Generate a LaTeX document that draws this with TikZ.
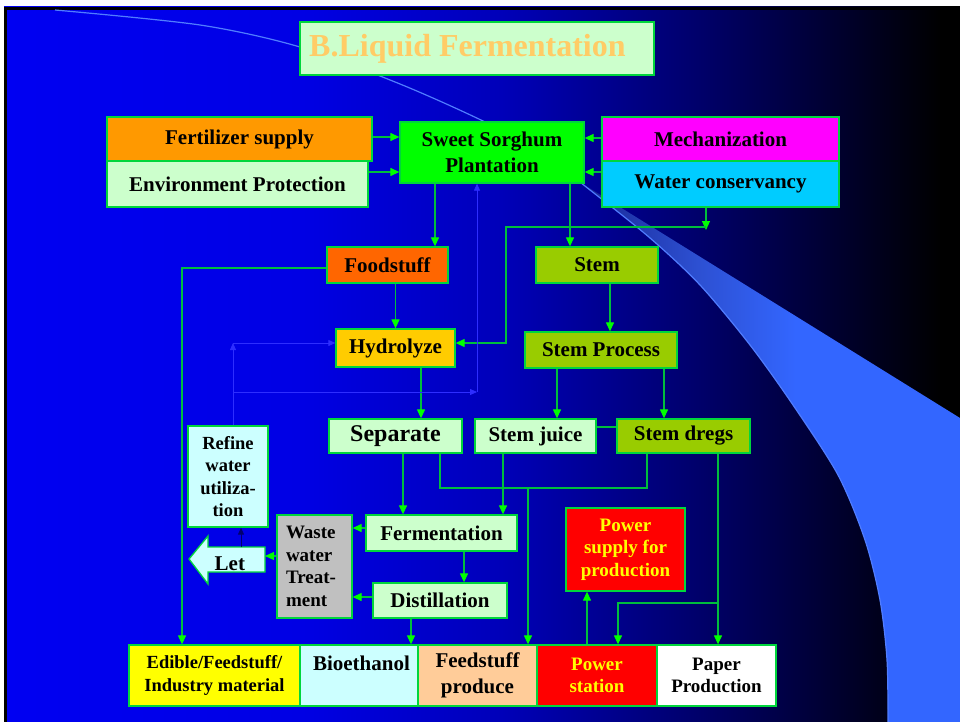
\documentclass[tikz,border=0pt]{standalone}
\usepackage{fontspec}
\setmainfont{Liberation Serif}
\usetikzlibrary{arrows.meta}

\definecolor{bgA}{RGB}{0,0,242}
\definecolor{bgB}{RGB}{0,0,228}
\definecolor{bgC}{RGB}{0,0,185}
\definecolor{bgD}{RGB}{0,0,105}
\definecolor{bgE}{RGB}{0,0,40}
\definecolor{wA}{RGB}{25,40,150}
\definecolor{wB}{RGB}{45,80,210}
\definecolor{wC}{RGB}{51,102,255}
\definecolor{arcblue}{RGB}{80,125,255}
\definecolor{bordergreen}{RGB}{0,214,60}
\definecolor{linegreen}{RGB}{0,190,60}
\definecolor{headgreen}{RGB}{0,255,0}
\definecolor{faintblue}{RGB}{45,45,255}
\definecolor{navyA}{RGB}{0,0,110}
\definecolor{ltgreen}{RGB}{204,255,204}
\definecolor{ltcyan}{RGB}{204,255,255}
\definecolor{titleorange}{RGB}{255,204,102}
\definecolor{orangeA}{RGB}{255,153,0}
\definecolor{orangeB}{RGB}{255,102,0}
\definecolor{sgreen}{RGB}{0,255,0}
\definecolor{magentaA}{RGB}{255,0,255}
\definecolor{cyanA}{RGB}{0,204,255}
\definecolor{oliveA}{RGB}{153,204,0}
\definecolor{goldA}{RGB}{255,204,0}
\definecolor{greyA}{RGB}{192,192,192}
\definecolor{peachA}{RGB}{255,204,153}
\definecolor{redA}{RGB}{255,0,0}
\definecolor{yellowA}{RGB}{255,255,0}

\pgfdeclarehorizontalshading{bgshade}{100bp}{color(0bp)=(bgA); color(25bp)=(bgA); color(40.6bp)=(bgB); color(51bp)=(bgC); color(61.5bp)=(bgD); color(69.3bp)=(bgE); color(74bp)=(black); color(100bp)=(black)}
\pgfdeclarehorizontalshading{wedgeshade}{100bp}{color(0bp)=(wA); color(25bp)=(wA); color(40bp)=(wB); color(53bp)=(wC); color(100bp)=(wC)}

\newcommand\fstitle{\fontsize{32}{38}\selectfont}
\newcommand\fsmain{\fontsize{21}{26}\selectfont}
\newcommand\fsbig{\fontsize{24}{28}\selectfont}
\newcommand\fssmall{\fontsize{19}{22.5}\selectfont}
\newcommand\fsref{\fontsize{18.5}{22.5}\selectfont}
\newcommand\fsedible{\fontsize{18.5}{23}\selectfont}

\tikzset{
  box/.style={draw=bordergreen, line width=1.3pt, inner sep=0pt, align=center, font=\fsmain\bfseries, text=black},
  conn/.style={draw=linegreen, line width=1.2pt},
  arr/.style={conn, -{Triangle[length=9pt,width=8pt,color=headgreen]}},
  barr/.style={draw=faintblue, line width=0.8pt, -{Triangle[length=7pt,width=6pt,color=faintblue]}},
  navyarr/.style={draw=navyA, line width=1pt, -{Triangle[length=7pt,width=6pt,color=navyA]}},
}

\begin{document}
\begin{tikzpicture}[x=1pt,y=-1pt]
\useasboundingbox (0,0) rectangle (960,722);
% background
\fill[white] (0,0) rectangle (960,722);
\shade[shading=bgshade] (4,7) rectangle (960,722);
\draw[black, line width=3pt] (5.5,722) -- (5.5,8.5) -- (960,8.5);
% decorative wedge and arc
\shade[shading=wedgeshade] plot[smooth] coordinates {(586,186) (650,238) (700,285) (750,345) (793,405) (838,475) (865,540) (880,600) (887,660) (888,722)} -- (960,722) -- (960,418) -- cycle;
\draw[arcblue, line width=1.2pt] plot[smooth] coordinates {(55,10) (200,25) (300,47) (400,84) (483,121) (540,152) (590,190) (650,238) (700,285) (750,345) (793,405) (838,475) (865,540) (880,600) (887,660) (888,722)};

% nodes
\node[box, fill=ltgreen, minimum width=354pt, minimum height=53pt] (title) at (477,48.5) {};
\node[font=\fstitle\bfseries, text=titleorange, anchor=base west, inner sep=0pt] (titleT) at (309,57) {B.Liquid Fermentation};

\node[box, fill=orangeA, minimum width=265pt, minimum height=44pt] (fert) at (239.5,139) {Fertilizer supply};
\node[box, fill=ltgreen, minimum width=261pt, minimum height=46pt] (env) at (237.5,184) {Environment Protection};
\node[box, fill=sgreen, minimum width=184pt, minimum height=61pt] (ss) at (492,152.5) {Sweet Sorghum\\Plantation};
\node[box, fill=magentaA, minimum width=237pt, minimum height=44pt] (mech) at (720.5,139) {Mechanization};
\node[box, fill=cyanA, minimum width=237pt, minimum height=46pt] (water) at (720.5,184) {Water conservancy};

\node[box, fill=orangeB, minimum width=121pt, minimum height=36pt] (food) at (387.5,265) {Foodstuff};
\node[box, fill=oliveA, minimum width=122pt, minimum height=36pt] (stem) at (597,265) {Stem};
\node[box, fill=goldA, minimum width=119pt, minimum height=38pt] (hydro) at (395.5,348) {Hydrolyze};
\node[box, fill=oliveA, minimum width=152pt, minimum height=36pt] (sproc) at (601,350) {Stem Process};

\node[box, fill=ltgreen, minimum width=133pt, minimum height=34pt, font=\fsbig\bfseries] (sep) at (395.5,436) {Separate};
\node[box, fill=ltgreen, minimum width=121pt, minimum height=34pt] (sjuice) at (535.5,436) {Stem juice};
\node[box, fill=oliveA, minimum width=133pt, minimum height=34pt] (sdregs) at (683.5,436) {Stem dregs};

\node[box, fill=ltcyan, minimum width=80pt, minimum height=101pt, font=\fsref\bfseries] (refine) at (228,476.5) {Refine\\water\\utiliza-\\tion};
\node[box, fill=ltgreen, minimum width=151pt, minimum height=36pt] (ferm) at (441.5,533) {Fermentation};
\node[box, fill=ltgreen, minimum width=134pt, minimum height=35pt] (dist) at (440,600.5) {Distillation};
\node[box, fill=greyA, minimum width=75pt, minimum height=103pt, text width=57pt, inner xsep=9pt, align=left, font=\fssmall\bfseries] (waste) at (314.5,566.5) {Waste\\water\\Treat-\\ment};
\node[box, fill=redA, text=yellowA, minimum width=119pt, minimum height=83pt, font=\fssmall\bfseries] (psupply) at (625.5,549.5) {Power\\supply for\\production};

% Let arrow shape
\coordinate (letTip) at (189,559);
\coordinate (letE) at (265,556);
\coordinate (letTop) at (241,547);
\draw[draw=bordergreen, line width=1.3pt, fill=ltcyan] (letTip) -- (208,536) -- (208,547) -- (265,547) -- (265,572) -- (208,572) -- (208,584) -- cycle;
\node[font=\fsmain\bfseries, anchor=base west, inner sep=0pt] (let) at (214.5,570) {Let};

% bottom row
\node[box, fill=yellowA, minimum width=171pt, minimum height=61pt, font=\fsedible\bfseries] (edible) at (214.5,675.5) {Edible/Feedstuff/\\Industry material};
\node[box, fill=ltcyan, minimum width=118pt, minimum height=61pt] (bio) at (359,675.5) {};
\node[font=\fsmain\bfseries, anchor=base, inner sep=0pt] (bioT) at (361.5,670) {Bioethanol};
\node[box, fill=peachA, minimum width=119pt, minimum height=61pt] (feed) at (477.5,675.5) {Feedstuff\\produce};
\node[box, fill=redA, text=yellowA, minimum width=120pt, minimum height=61pt, font=\fssmall\bfseries] (pstation) at (597,675.5) {Power\\station};
\node[box, fill=white, minimum width=119pt, minimum height=61pt, font=\fssmall\bfseries] (paper) at (716.5,675.5) {Paper\\Production};

% connectors: inputs to plantation
\coordinate (a1) at ([yshift=2pt]fert.east);
\coordinate (a2) at ([yshift=12pt]env.east);
\coordinate (a3) at ([yshift=1pt]mech.west);
\coordinate (a4) at ([yshift=12pt]water.west);
\draw[arr] (a1) -- (a1 -| ss.west);
\draw[arr] (a2) -- (a2 -| ss.west);
\draw[arr] (a3) -- (a3 -| ss.east);
\draw[arr] (a4) -- (a4 -| ss.east);

% plantation outputs
\coordinate (f1) at ([xshift=47.5pt]food.north);
\coordinate (s0) at ([xshift=-27pt]stem.north);
\draw[arr] (f1 |- ss.south) -- (f1);
\draw[arr] (s0 |- ss.south) -- (s0);

% water conservancy to hydrolyze
\coordinate (w1) at ([xshift=-14.5pt]water.south);
\coordinate (j1) at (706,227);
\coordinate (j2) at (506,227);
\coordinate (h1) at ([yshift=5pt]hydro.east);
\draw[arr] (w1) -- ([yshift=-3pt]j1);
\draw[arr] (j1) -- (j2) |- (h1);

% foodstuff
\draw[arr] (hydro.north |- food.south) -- (hydro.north);
\coordinate (e1) at ([xshift=-32.5pt]edible.north);
\draw[arr] ([yshift=-3pt]food.west) -| (e1);

% stem
\coordinate (s1) at ([xshift=9pt]sproc.north);
\draw[arr] (s1 |- stem.south) -- (s1);
\coordinate (s2) at ([xshift=21.5pt]sjuice.north);
\coordinate (s3) at ([xshift=-19.5pt]sdregs.north);
\draw[arr] (s2 |- sproc.south) -- (s2);
\draw[arr] (s3 |- sproc.south) -- (s3);
\coordinate (s4) at ([yshift=9pt]sjuice.east);
\draw[conn] (s4) -- (s4 -| sdregs.west);

% hydrolyze to separate
\coordinate (h2) at ([xshift=25.5pt]sep.north);
\draw[arr] (h2 |- hydro.south) -- (h2);

% separate / stem juice to fermentation
\coordinate (m1) at ([xshift=-38.5pt]ferm.north);
\coordinate (m2) at ([xshift=61.5pt]ferm.north);
\draw[arr] (m1 |- sep.south) -- (m1);
\draw[arr] (m2 |- sjuice.south) -- (m2);

% residue collector to feedstuff produce
\coordinate (k1) at ([xshift=44.5pt]sep.south);
\coordinate (k2) at ([xshift=-36.5pt]sdregs.south);
\coordinate (k3) at ([xshift=50.5pt]feed.north);
\coordinate (ky) at (0,488);
\draw[conn] (k1) -- (k1 |- ky) -- (k2 |- ky) -- (k2);
\draw[arr] (k3 |- ky) -- (k3);

% fermentation chain
\coordinate (d1) at ([xshift=24pt]dist.north);
\draw[arr] (d1 |- ferm.south) -- (d1);
\coordinate (g1) at ([yshift=5pt]ferm.west);
\coordinate (g2) at ([yshift=3.5pt]dist.west);
\draw[arr] (g1) -- (g1 -| waste.east);
\draw[arr] (g2) -- (g2 -| waste.east);
\coordinate (g3) at ([yshift=10.5pt]waste.west);
\draw[arr] (g3) -- (letE);
\coordinate (r1) at ([xshift=13pt]refine.south);
\draw[navyarr] (letTop) -- (r1);
\coordinate (b0) at ([xshift=52pt]bio.north);
\draw[arr] (b0 |- dist.south) -- (b0);

% faint blue recycling lines
\coordinate (b1) at ([xshift=5pt]refine.north);
\coordinate (b2) at ([yshift=5pt]hydro.west);
\coordinate (b3) at (477,392);
\draw[barr] (b1) -- (b1 |- b2);
\draw[barr] (b1 |- b2) -- (b2);
\draw[barr] (b1 |- b3) -- (b3);
\draw[barr] (b3) -- (b3 |- ss.south);

% power and paper
\coordinate (p0) at ([xshift=-38.5pt]psupply.south);
\draw[arr] (p0 |- pstation.north) -- (p0);
\coordinate (p1) at ([xshift=1.5pt]paper.north);
\coordinate (p2) at ([xshift=21pt]pstation.north);
\coordinate (py) at (0,603);
\draw[arr] (p1 |- sdregs.south) -- (p1);
\draw[arr] (p1 |- py) -- (p2 |- py) -- (p2);
\end{tikzpicture}
\end{document}
